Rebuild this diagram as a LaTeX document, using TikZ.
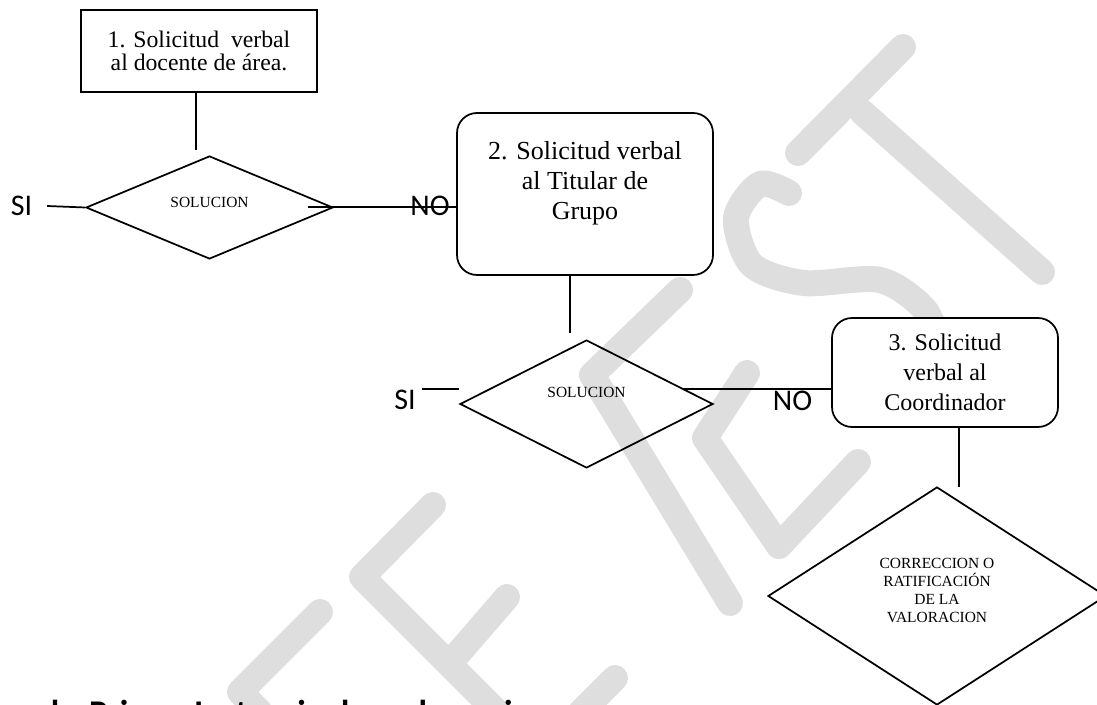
\documentclass[tikz,border=0pt]{standalone}
\usepackage{fontspec}
\setmainfont{Liberation Serif}
\newfontfamily\calibri{Carlito}
\usepackage{tikz}
\usetikzlibrary{shapes.geometric}
\definecolor{wmgray}{HTML}{DEDEDE}

\begin{document}
\begin{tikzpicture}[x=0.75pt,y=-0.75pt,line width=1.3pt,
	box/.style={draw,fill=white,rectangle,inner sep=0pt,align=center,font=\fontsize{17.8}{17.5}\selectfont},
	rbox/.style={draw,fill=white,rectangle,rounded corners=15pt,inner sep=0pt,align=center,font=\fontsize{19.5}{22.5}\selectfont},
	dec/.style={draw,diamond,inner sep=0pt,align=center,font=\fontsize{11.6}{13.5}\selectfont},
	yn/.style={inner sep=0pt,font=\calibri\fontsize{22.5}{27}\selectfont},
	wmark/.style={draw=wmgray,line width=19.5pt,line cap=round,line join=round},
	]

	\useasboundingbox (0,0) rectangle (1097,705);
	\clip (0,0) rectangle (1097,705);

	% marca de agua
	\draw[wmark] (903,47) -- (798,153);
	\draw[wmark] (862,112) -- (1042,272);
	\draw[wmark] plot[smooth] coordinates {(789,193) (760,184) (736,218) (752,265) (804,283) (880,280) (925,310) (940,350)};
	\draw[wmark] (680,290) -- (592,375) -- (730,603);
	\draw[wmark] (747,373) -- (705,438) -- (779,546) -- (858,462);
	\draw[wmark] (433,505) -- (362,577) -- (500,715);
	\draw[wmark] (450,663) -- (507,597);
	\draw[wmark] (320,612) -- (240,692) -- (260,712);
	\draw[wmark] (615,678) -- (580,713);

	\node[box,minimum width=177pt,minimum height=61.5pt] (s1) at (199,51) {1. Solicitud\ \ verbal\\al docente de área.};
	\node[dec,minimum width=185.25pt,minimum height=77.25pt,text depth=7.5pt] (d1) at (209.5,207.5) {SOLUCION};
	\node[rbox,minimum width=192pt,minimum height=121.5pt,text depth=21pt] (s2) at (585,194) {2. Solicitud verbal\\al Titular de\\Grupo};
	\node[dec,minimum width=189.75pt,minimum height=96pt,text depth=18pt] (d2) at (586.5,404) {SOLUCION};
	\node[rbox,minimum width=169.5pt,minimum height=81.75pt,font=\fontsize{18}{22.5}\selectfont] (s3) at (945,372.5) {3. Solicitud\\verbal al\\Coordinador};
	\node[dec,minimum width=253.5pt,minimum height=163.5pt,text depth=9pt] (d3) at (937,596) {CORRECCION O\\RATIFICACIÓN\\DE LA\\VALORACION};

	\node[yn] (si1) at (21.5,206) {SI};
	\node[yn] (no1) at (430,205.5) {NO};
	\node[yn] (si2) at (405,400) {SI};
	\node[yn] (no2) at (792.5,401) {NO};

	\coordinate (a1) at (196,150);
	\coordinate (a2) at (570,333);
	\coordinate (a3) at (959,487);
	\coordinate (b1) at (308,207);
	\coordinate (b2) at (683,389);
	\coordinate (c2) at (422,389);

	\draw (s1.south -| a1) -- (a1);
	\draw ([xshift=10.5pt]si1.east) -- (d1.west);
	\draw (b1) -- (b1 -| s2.west);
	\draw (s2.south -| a2) -- (a2);
	\draw (c2) -- (c2 -| d2.west);
	\draw (b2) -- (b2 -| s3.west);
	\draw (s3.south -| a3) -- (a3);

	\node[inner sep=0pt,anchor=base west,font=\calibri\bfseries\fontsize{26}{30}\selectfont] (h1) at (50,725) {b. Primer Instancia de reclamaciones};

\end{tikzpicture}
\end{document}
